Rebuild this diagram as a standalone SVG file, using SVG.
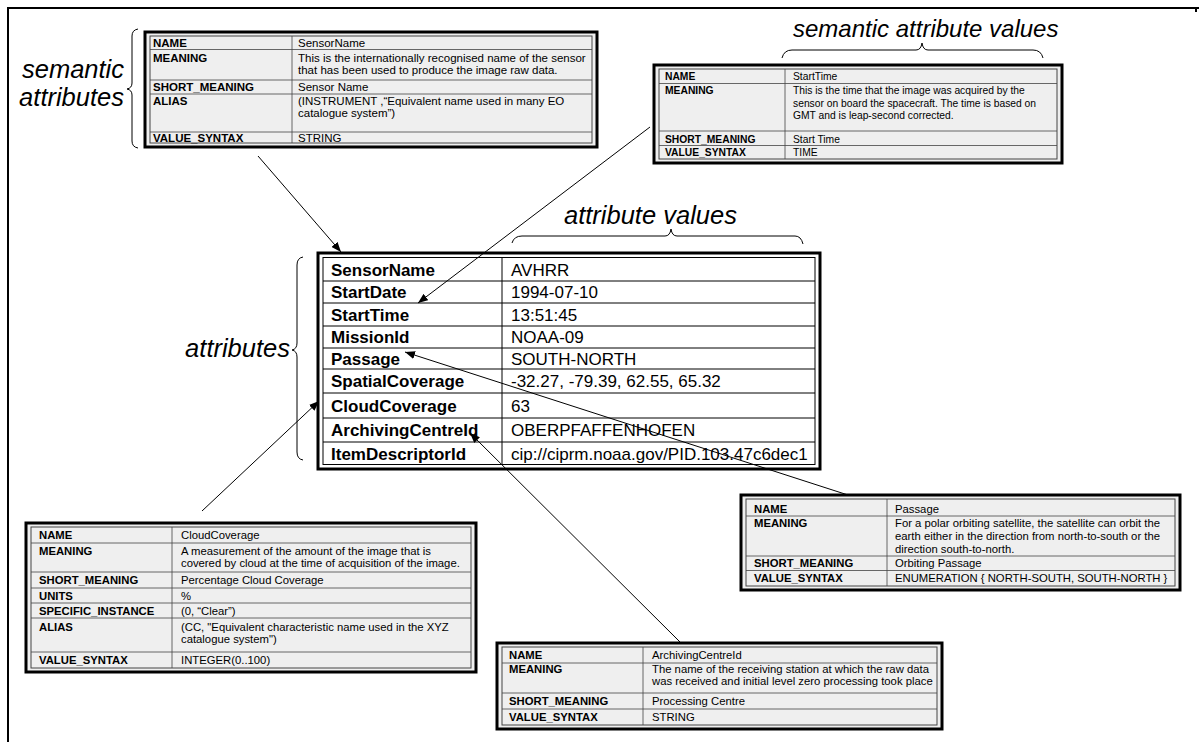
<svg xmlns="http://www.w3.org/2000/svg" width="1199" height="742" viewBox="0 0 1199 742">
  <style>
    .frame { fill: none; stroke: #000; stroke-width: 2; }
    .tbl-out { fill: #efefef; stroke: #000; stroke-width: 3; }
    .tbl-in { fill: none; stroke: #444; stroke-width: 1; }
    .grid { stroke: #444; stroke-width: 0.8; fill: none; }
    .main-out { fill: #fff; stroke: #000; stroke-width: 3; }
    .main-in { fill: none; stroke: #000; stroke-width: 1; }
    .main-grid { stroke: #000; stroke-width: 1; fill: none; }
    text { font-family: "Liberation Sans", Arial, sans-serif; fill: #000; }
    .b { font-weight: bold; }
    .f115 { font-size: 11.5px; }
    .f113 { font-size: 11.3px; }
    .f103 { font-size: 10.3px; }
    .f17 { font-size: 17px; }
    .note { font-size: 25.5px; font-style: italic; }
    .brace { fill: none; stroke: #000; stroke-width: 1; }
    .conn { fill: none; stroke: #000; stroke-width: 1; }
  </style>
  <defs>
    <marker id="arrow" markerUnits="userSpaceOnUse" markerWidth="11" markerHeight="8" refX="10" refY="4" orient="auto">
      <path d="M0,0 L10,4 L0,8 Z" fill="#000"/>
    </marker>
  </defs>

  <!-- page frame -->
  <path class="frame" d="M8,742 V8 H1199 M1196,8 V12"/>

  <!-- brace labels -->
  <g id="label-semantic-attributes">
    <text class="note" x="124" y="78" text-anchor="end">semantic</text>
    <text class="note" x="124" y="106" text-anchor="end">attributes</text>
    <path class="brace" d="M138,29 Q132,30 132,36 V83 Q132,88 127,89 Q132,90 132,95 V141 Q132,147 138,148"/>
  </g>
  <g id="label-semantic-attribute-values">
    <text class="note" x="793" y="37" style="font-size:24px">semantic attribute values</text>
    <path class="brace" d="M782,58 Q784,50 792,50 H916 Q921,50 922,43 Q923,50 928,50 H1033 Q1041,50 1043,58"/>
  </g>
  <g id="label-attribute-values">
    <text class="note" x="564" y="224">attribute values</text>
    <path class="brace" d="M512,243 Q514,236 522,236 H665 Q670,236 671,229 Q672,236 677,236 H795 Q801,236 803,244"/>
  </g>
  <g id="label-attributes">
    <text class="note" x="290" y="357" text-anchor="end">attributes</text>
    <path class="brace" d="M303,257 Q297,258 297,265 V343 Q297,349 292,350 Q297,351 297,357 V452 Q297,459 303,460"/>
  </g>

  <!-- semantic attributes of SensorName -->
  <g id="table-sensorname" class="f115">
    <rect class="tbl-out" x="145" y="32" width="452" height="115"/>
    <rect class="tbl-in" x="150" y="36" width="442" height="107"/>
    <path class="grid" d="M292,36 V143 M150,49.5 H592 M150,80 H592 M150,94 H592 M150,132 H592"/>
    <text class="b" x="153" y="47">NAME</text>
    <text x="298" y="47">SensorName</text>
    <text class="b" x="153" y="61.5">MEANING</text>
    <text x="298" y="61.5">This is the internationally recognised name of the sensor</text>
    <text x="298" y="73.5">that has been used to  produce the image raw data.</text>
    <text class="b" x="153" y="91">SHORT_MEANING</text>
    <text x="298" y="91">Sensor Name</text>
    <text class="b" x="153" y="105">ALIAS</text>
    <text x="298" y="105">(INSTRUMENT ,“Equivalent name used in many EO</text>
    <text x="298" y="117">catalogue system”)</text>
    <text class="b" x="153" y="142">VALUE_SYNTAX</text>
    <text x="298" y="142">STRING</text>
  </g>

  <!-- semantic attributes of StartTime -->
  <g id="table-starttime" class="f103">
    <rect class="tbl-out" x="654" y="65" width="408" height="98"/>
    <rect class="tbl-in" x="659" y="69" width="398" height="90"/>
    <path class="grid" d="M785,69 V159 M659,83.5 H1057 M659,131 H1057 M659,145.5 H1057"/>
    <text class="b" x="665" y="80">NAME</text>
    <text x="793" y="80">StartTime</text>
    <text class="b" x="665" y="94">MEANING</text>
    <text x="793" y="94">This is the time that the image was acquired by the</text>
    <text x="793" y="106.5">sensor on board the spacecraft. The time is based on</text>
    <text x="793" y="119">GMT and is leap-second corrected.</text>
    <text class="b" x="665" y="142.5">SHORT_MEANING</text>
    <text x="793" y="142.5">Start Time</text>
    <text class="b" x="665" y="156">VALUE_SYNTAX</text>
    <text x="793" y="156">TIME</text>
  </g>

  <!-- attribute / value table -->
  <g id="table-attributes" class="f17">
    <rect class="main-out" x="318" y="253" width="502" height="216"/>
    <rect class="main-in" x="323" y="257.5" width="492" height="207"/>
    <path class="main-grid" d="M502,257.5 V464.5 M323,281 H815 M323,303 H815 M323,326 H815 M323,348 H815 M323,369 H815 M323,393 H815 M323,418 H815 M323,442 H815"/>
    <text class="b" x="331" y="275.5">SensorName</text>
    <text x="511" y="275.5">AVHRR</text>
    <text class="b" x="331" y="298">StartDate</text>
    <text x="511" y="298">1994-07-10</text>
    <text class="b" x="331" y="320.5">StartTime</text>
    <text x="511" y="320.5">13:51:45</text>
    <text class="b" x="331" y="343">MissionId</text>
    <text x="511" y="343">NOAA-09</text>
    <text class="b" x="331" y="364.5">Passage</text>
    <text x="511" y="364.5">SOUTH-NORTH</text>
    <text class="b" x="331" y="387">SpatialCoverage</text>
    <text x="511" y="387">-32.27, -79.39, 62.55, 65.32</text>
    <text class="b" x="331" y="411.5">CloudCoverage</text>
    <text x="511" y="411.5">63</text>
    <text class="b" x="331" y="436">ArchivingCentreId</text>
    <text x="511" y="436">OBERPFAFFENHOFEN</text>
    <text class="b" x="331" y="459.5">ItemDescriptorId</text>
    <text x="511" y="459.5">cip://ciprm.noaa.gov/PID.103.47c6dec1</text>
  </g>

  <!-- semantic attributes of CloudCoverage -->
  <g id="table-cloudcoverage" class="f113">
    <rect class="tbl-out" x="26" y="523" width="450" height="149"/>
    <rect class="tbl-in" x="31" y="527" width="440" height="141"/>
    <path class="grid" d="M172,527 V668 M31,543 H471 M31,572 H471 M31,588 H471 M31,603 H471 M31,618 H471 M31,652 H471"/>
    <text class="b" x="39" y="539">NAME</text>
    <text x="181" y="539">CloudCoverage</text>
    <text class="b" x="39" y="555">MEANING</text>
    <text x="181" y="555">A measurement of the amount of the image that is</text>
    <text x="181" y="567">covered by cloud at the time of acquisition of the image.</text>
    <text class="b" x="39" y="584">SHORT_MEANING</text>
    <text x="181" y="584">Percentage Cloud Coverage</text>
    <text class="b" x="39" y="599.5">UNITS</text>
    <text x="181" y="599.5">%</text>
    <text class="b" x="39" y="614.5">SPECIFIC_INSTANCE</text>
    <text x="181" y="614.5">(0, “Clear”)</text>
    <text class="b" x="39" y="631">ALIAS</text>
    <text x="181" y="631">(CC, "Equivalent characteristic name used in  the XYZ</text>
    <text x="181" y="643">catalogue system")</text>
    <text class="b" x="39" y="664">VALUE_SYNTAX</text>
    <text x="181" y="664">INTEGER(0..100)</text>
  </g>

  <!-- semantic attributes of ArchivingCentreId -->
  <g id="table-archivingcentreid" class="f113">
    <rect class="tbl-out" x="497" y="643" width="445" height="86"/>
    <rect class="tbl-in" x="502" y="647" width="435" height="78"/>
    <path class="grid" d="M643,647 V725 M502,663 H937 M502,693 H937 M502,709 H937"/>
    <text class="b" x="509" y="659">NAME</text>
    <text x="652" y="659">ArchivingCentreId</text>
    <text class="b" x="509" y="673">MEANING</text>
    <text x="652" y="673">The name of the receiving station at which the raw data</text>
    <text x="652" y="685">was received and initial level zero processing took place</text>
    <text class="b" x="509" y="705">SHORT_MEANING</text>
    <text x="652" y="705">Processing Centre</text>
    <text class="b" x="509" y="721">VALUE_SYNTAX</text>
    <text x="652" y="721">STRING</text>
  </g>

  <!-- semantic attributes of Passage -->
  <g id="table-passage" class="f113">
    <rect class="tbl-out" x="741" y="495" width="439" height="95"/>
    <rect class="tbl-in" x="746" y="499" width="429" height="87"/>
    <path class="grid" d="M887,499 V586 M746,516 H1175 M746,556 H1175 M746,570.5 H1175"/>
    <text class="b" x="754" y="512.5">NAME</text>
    <text x="895" y="512.5">Passage</text>
    <text class="b" x="754" y="526.5">MEANING</text>
    <text x="895" y="526.5">For a polar orbiting satellite, the satellite can orbit the</text>
    <text x="895" y="539.5">earth either in the direction from north-to-south or the</text>
    <text x="895" y="552.5">direction south-to-north.</text>
    <text class="b" x="754" y="567">SHORT_MEANING</text>
    <text x="895" y="567">Orbiting Passage</text>
    <text class="b" x="754" y="582">VALUE_SYNTAX</text>
    <text x="895" y="582">ENUMERATION { NORTH-SOUTH, SOUTH-NORTH }</text>
  </g>

  <!-- connectors from semantic tables to attribute rows -->
  <g id="connectors">
    <line class="conn" x1="258" y1="156" x2="341" y2="252" marker-end="url(#arrow)"/>
    <line class="conn" x1="650" y1="127" x2="418" y2="303" marker-end="url(#arrow)"/>
    <line class="conn" x1="202" y1="511" x2="319" y2="401" marker-end="url(#arrow)"/>
    <line class="conn" x1="680" y1="642" x2="470" y2="433" marker-end="url(#arrow)"/>
    <line class="conn" x1="848" y1="495" x2="405" y2="352" marker-end="url(#arrow)"/>
  </g>
</svg>
